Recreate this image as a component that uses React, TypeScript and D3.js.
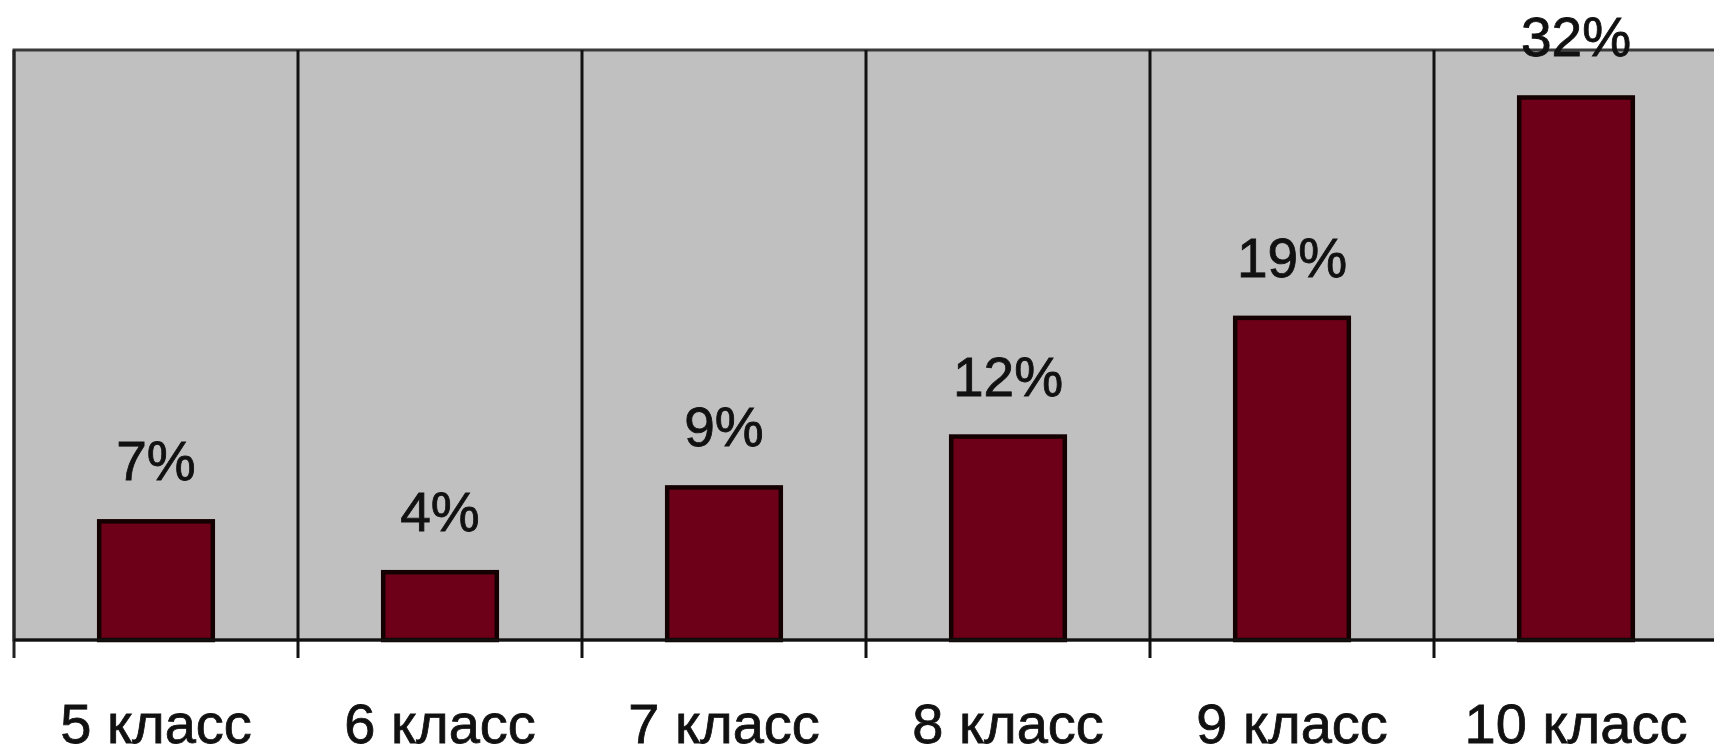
import * as d3 from "d3";

const categories = ["5 класс", "6 класс", "7 класс", "8 класс", "9 класс", "10 класс"];
const values = [7, 4, 9, 12, 19, 32];
const valueLabels = ["7%", "4%", "9%", "12%", "19%", "32%"];

const width = 1714;
const height = 755;
const margin = { left: 14, right: -4, top: 50, bottom: 115 };

const App = () => {
  const x = d3
    .scaleBand<string>()
    .domain(categories)
    .range([margin.left, width - margin.right])
    .padding(0);

  const y = d3
    .scaleLinear()
    .domain([0, 34.8])
    .range([height - margin.bottom, margin.top]);

  const barW = x.bandwidth() * 0.4;
  const y0 = y(0);
  const font = "'Liberation Sans', Arial, sans-serif";

  return (
    <svg
      width={width}
      height={height}
      style={{ position: "absolute", left: 0, top: 0, background: "#fff" }}
    >
      {/* plot area */}
      <rect
        x={margin.left}
        y={margin.top}
        width={width - margin.right - margin.left}
        height={y0 - margin.top}
        fill="#c0c0c0"
        stroke="#3a3a3a"
        strokeWidth={3}
      />
      {/* category separators */}
      {categories.slice(1).map((c) => (
        <line
          key={"sep" + c}
          x1={x(c)}
          x2={x(c)}
          y1={margin.top}
          y2={y0 + 18}
          stroke="#111"
          strokeWidth={3}
        />
      ))}
      <line x1={margin.left} x2={margin.left} y1={margin.top} y2={y0 + 18} stroke="#222" strokeWidth={3} />
      {/* bars */}
      {categories.map((c, i) => {
        const cx = (x(c) ?? 0) + x.bandwidth() / 2;
        return (
          <g key={c}>
            <rect
              x={cx - barW / 2}
              y={y(values[i])}
              width={barW}
              height={y0 - y(values[i])}
              fill="#6d0018"
              stroke="#140000"
              strokeWidth={4.5}
            />
            <text
              x={cx}
              y={y(values[i]) - 41}
              textAnchor="middle"
              fontFamily={font}
              fontSize={55}
              fill="#111"
              stroke="#111"
              strokeWidth={0.8}
            >
              {valueLabels[i]}
            </text>
            <text
              x={cx}
              y={743}
              textAnchor="middle"
              fontFamily={font}
              fontSize={56}
              fill="#111"
              stroke="#111"
              strokeWidth={0.8}
            >
              {c}
            </text>
          </g>
        );
      })}
      {/* axis line */}
      <line x1={margin.left} x2={width} y1={y0} y2={y0} stroke="#111" strokeWidth={3} />
    </svg>
  );
};

export default App;
